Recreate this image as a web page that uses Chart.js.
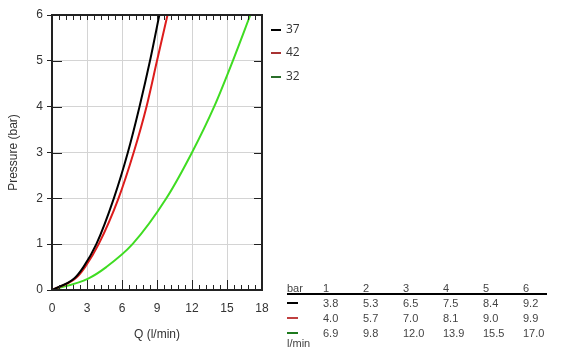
<!DOCTYPE html>
<html><head><meta charset="utf-8">
<script src="https://cdn.jsdelivr.net/npm/chart.js@4"></script>
<style>
html,body{margin:0;padding:0;background:#fff;}
#wrap{position:relative;width:571px;height:363px;overflow:hidden;}
canvas{position:absolute;left:0;top:0;}
.t{position:absolute;font:11px "Liberation Sans",Arial,sans-serif;color:#444;white-space:nowrap;line-height:12px;}
.lg{position:absolute;font:12px "Open Sans",sans-serif;color:#333;line-height:14px;white-space:nowrap;}
.mk{position:absolute;height:2px;}
</style></head><body>
<div id="wrap"><canvas id="c" width="571" height="363"></canvas></div>
<script>
// ---- data (pressure in bar, flow Q in l/min) ----
const curvePressure = [0, 0.25, 0.5, 1, 2, 3, 4, 5, 6];
const curveFlow37 = [0, 1.9, 2.69, 3.8, 5.3, 6.5, 7.5, 8.4, 9.2];
const curveFlow42 = [0, 2.0, 2.83, 4.0, 5.7, 7.0, 8.1, 9.0, 9.9];
const curveFlow32 = [0, 3.1, 4.65, 6.9, 9.8, 12.0, 13.9, 15.5, 17.0];

const seriesNames = ['37', '42', '32'];
const tablePressures = [1, 2, 3, 4, 5, 6];
const table37 = [3.8, 5.3, 6.5, 7.5, 8.4, 9.2];
const table42 = [4.0, 5.7, 7.0, 8.1, 9.0, 9.9];
const table32 = [6.9, 9.8, 12.0, 13.9, 15.5, 17.0];
const xTicks = [0, 3, 6, 9, 12, 15, 18];
const yTicks = [0, 1, 2, 3, 4, 5, 6];

const lineColors = ['#000000', '#dd1c1c', '#3fdc22'];
const legendColors = ['#000000', '#a83232', '#2a6e2a'];
const tableColors = ['#000000', '#c04040', '#1d7a1d'];

const flows = [curveFlow37, curveFlow42, curveFlow32];
const pts = f => f.map((q, i) => ({x: q, y: curvePressure[i]}));

const framePlugin = {
  id: 'frame',
  afterDatasetsDraw(chart) {
    const {ctx, chartArea: {left, right, top, bottom}, scales: {x, y}} = chart;
    ctx.save();
    ctx.strokeStyle = '#222';
    ctx.lineWidth = 1;
    const xs = xTicks[1] - xTicks[0];
    const minor = xs / 5;
    const n = Math.round((xTicks[xTicks.length - 1] - xTicks[0]) / minor);
    ctx.beginPath();
    for (let i = 1; i < n; i++) {
      const v = xTicks[0] + i * minor;
      const px = Math.round(x.getPixelForValue(v)) + 0.5;
      const major = i % 5 === 0;
      ctx.moveTo(px, bottom); ctx.lineTo(px, bottom - (major ? 10 : 5));
      ctx.moveTo(px, top); ctx.lineTo(px, top + 5);
    }
    for (let i = 1; i < yTicks.length - 1; i++) {
      const py = Math.round(y.getPixelForValue(yTicks[i])) + 0.5;
      ctx.moveTo(left, py); ctx.lineTo(left + 10, py);
      ctx.moveTo(right, py); ctx.lineTo(right - 8, py);
    }
    ctx.stroke();
    ctx.lineWidth = 2;
    ctx.strokeStyle = '#222';
    ctx.strokeRect(left, top, right - left, bottom - top);
    ctx.restore();
  }
};

const font = {family: '"Liberation Sans", Arial, sans-serif', size: 12};

new Chart(document.getElementById('c'), {
  type: 'scatter',
  data: {
    datasets: seriesNames.map((n, i) => ({
      label: n,
      data: pts(flows[i]),
      showLine: true,
      borderColor: lineColors[i],
      borderWidth: 2,
      pointRadius: 0,
      cubicInterpolationMode: 'monotone',
      fill: false
    }))
  },
  options: {
    responsive: false,
    animation: false,
    layout: {padding: {top: 15, right: 309, left: 0, bottom: 0}},
    plugins: {legend: {display: false}, tooltip: {enabled: false}},
    scales: {
      x: {
        type: 'linear', min: xTicks[0], max: xTicks[xTicks.length - 1],
        afterBuildTicks: s => { s.ticks = xTicks.map(v => ({value: v})); },
        ticks: {font, color: '#333', padding: 11, maxRotation: 0},
        grid: {color: '#d4d4d4', drawTicks: false},
        border: {display: false},
        title: {display: true, text: 'Q (l/min)', font, color: '#333', padding: {top: 0, bottom: 21}},
        afterFit: s => { s.height = 73; }
      },
      y: {
        type: 'linear', min: yTicks[0], max: yTicks[yTicks.length - 1],
        afterBuildTicks: s => { s.ticks = yTicks.map(v => ({value: v})); },
        ticks: {font, color: '#333', padding: 4},
        grid: {color: '#d4d4d4', tickLength: 5, tickColor: '#222'},
        border: {display: false},
        title: {display: true, text: 'Pressure (bar)', font, color: '#333', padding: {top: 6, bottom: 0}},
        afterFit: s => { s.width = 52; }
      }
    }
  },
  plugins: [framePlugin]
});

// ---- legend ----
const wrap = document.getElementById('wrap');
function add(cls, txt, left, top, extra) {
  const d = document.createElement('div');
  d.className = cls;
  if (txt !== null) d.textContent = txt;
  d.style.left = left + 'px';
  d.style.top = top + 'px';
  if (extra) Object.assign(d.style, extra);
  wrap.appendChild(d);
  return d;
}
const legendY = [30, 53, 77];
seriesNames.forEach((n, i) => {
  add('mk', null, 271, legendY[i] - 1, {width: '10px', background: legendColors[i]});
  add('lg', n, 286, legendY[i] - 8);
});

// ---- table ----
const colX = tablePressures.map((p, i) => 323 + 40 * i);
add('t', 'bar', 287, 282);
tablePressures.forEach((p, i) => add('t', String(p), colX[i], 282));
add('mk', null, 287, 293, {width: '260px', background: '#000'});
const rows = [table37, table42, table32];
const rowY = [303, 318, 333];
rows.forEach((r, ri) => {
  add('mk', null, 287, rowY[ri] - 1, {width: '11px', background: tableColors[ri]});
  r.forEach((v, i) => add('t', v.toFixed(1), colX[i], rowY[ri] - 6));
});
add('t', 'l/min', 287, 337);
</script>
</body></html>
